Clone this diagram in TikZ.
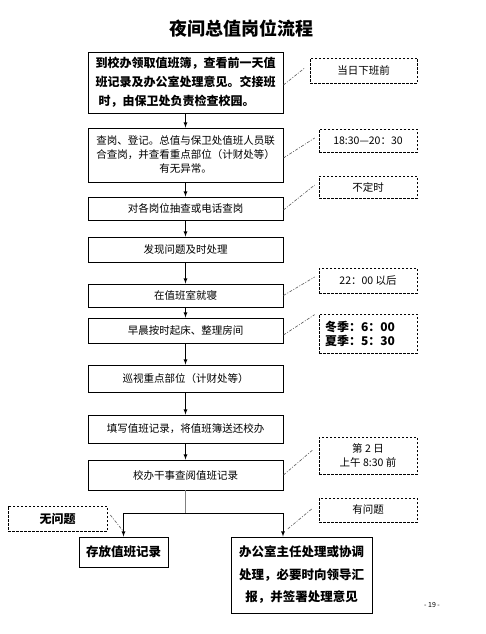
\documentclass[tikz,border=0pt]{standalone}
\usepackage{fontspec}
\setmainfont{Noto Sans CJK SC}
\usetikzlibrary{calc,arrows}

\begin{document}
\begin{tikzpicture}[x=1pt,y=-1pt,
        box/.style={draw,line width=0.9pt,minimum width=195pt,inner sep=0pt,align=center,font=\fontsize{10.5}{14}\selectfont},
        note/.style={draw,dashed,dash pattern=on 2.5pt off 1.5pt,line width=0.7pt,minimum width=98pt,inner sep=0pt,align=center,font=\fontsize{10.5}{14}\selectfont},
        link/.style={gray!70!black,line width=0.6pt,dash pattern=on 3pt off 1.5pt on 1pt off 1.5pt}]
        \useasboundingbox (0,0) rectangle (485,634);
        \node (title) at (241.5,28) {\fontsize{18}{20}\selectfont\bfseries 夜间总值岗位流程};
        \node[box,minimum height=61pt,align=left,font=\fontsize{12}{19}\selectfont\bfseries] (b1) at (185.5,82.5)
            {到校办领取值班簿，查看前一天值\\班记录及办公室处理意见。交接班\\\hspace{3pt}时，由保卫处负责检查校园。};
        \node[box,minimum height=54pt] (b2) at (185.5,155) {查岗、登记。总值与保卫处值班人员联\\合查岗，并查看重点部位（计财处等）\\有无异常。};
        \node[box,minimum height=23pt] (b3) at (185.5,208.5) {对各岗位抽查或电话查岗};
        \node[box,minimum height=25pt] (b4) at (185.5,249.5) {发现问题及时处理};
        \node[box,minimum height=23pt] (b5) at (185.5,295.5) {在值班室就寝};
        \node[box,minimum height=25pt] (b6) at (185.5,330.5) {早晨按时起床、整理房间};
        \node[box,minimum height=27pt] (b7) at (185.5,378.5) {巡视重点部位（计财处等）};
        \node[box,minimum height=28pt] (b8) at (185.5,429) {填写值班记录，将值班簿送还校办};
        \node[box,minimum height=30pt] (b9) at (185.5,475) {校办干事查阅值班记录};
        \foreach \a/\b in {b1/b2,b2/b3,b3/b4,b4/b5,b5/b6,b6/b7,b7/b8,b8/b9}
        \draw[-latex,line width=0.8pt] (\a) -- (\b);

        \node[note,minimum width=107pt,minimum height=25pt] (n1) at (363.5,70.5) {当日下班前};
        \node[note,minimum height=23pt] (n2) at (368,140.5) {18:30—20：30};
        \node[note,minimum height=22pt] (n3) at (368,187) {不定时};
        \node[note,minimum height=25pt] (n5) at (368,280.5) {22：00 以后};
        \node[note,minimum height=39pt,text width=86pt,align=left,font=\fontsize{12}{14}\selectfont\bfseries] (n6) at (368,333.5)
            {冬季：6：00\\夏季：5：30};
        \node[note,minimum height=37pt] (n9) at (368,455.5) {第 2 日\\上午 8:30 前};
        \node[note,minimum height=24pt] (n10) at (368,510) {有问题};
        \node[note,minimum width=99pt,minimum height=25pt,font=\fontsize{12}{14}\selectfont\bfseries] (n11) at (57.5,518.5) {无问题};

        \draw[link] ([shift={(0,2.5)}]b1.east) -- ([shift={(-5,-2.5)}]n1.west);
        \draw[link] ([shift={(0,3)}]b2.east) -- ([shift={(-4,-2.5)}]n2.west);
        \draw[link] ([shift={(0,1.5)}]b3.east) -- ([shift={(-4,-2)}]n3.west);
        \draw[link] (b5.east) -- ([shift={(-4,-3.5)}]n5.west);
        \draw[link] ([shift={(0,4.5)}]b6.east) -- ([shift={(-4,1)}]n6.north west);
        \draw[link] (b9.east) -- ([shift={(-6,-5.5)}]n9.west);

        \node[box,minimum width=89pt,minimum height=30pt,font=\fontsize{12.5}{15}\selectfont\bfseries] (c1) at (123.5,552) {存放值班记录};
        \node[box,minimum width=141pt,minimum height=76pt,font=\fontsize{12.5}{22.5}\selectfont\bfseries] (c2) at (301.5,575)
            {办公室主任处理或协调\\处理，必要时向领导汇\\报，并签署处理意见};
        \coordinate (fork) at (185.5,513);
        \draw[gray,line width=1.5pt] (b9) -- (fork);
        \draw[-latex,line width=0.8pt] (fork) -| (c1);
        \draw[-latex,line width=0.8pt] (fork) -| ([xshift=-18.5pt]c2.north);
        \draw[link] ([shift={(-7,-1)}]n10.west) -- ([shift={(-14.5,-7)}]c2.north);
        \draw[link] ([shift={(3,-3.5)}]n11.east) -- ([shift={(0,-5)}]c1.north);

        \node[font=\fontsize{7}{8}\selectfont] (page) at (432,605) {- 19 -};
    \end{tikzpicture}
\end{document}
